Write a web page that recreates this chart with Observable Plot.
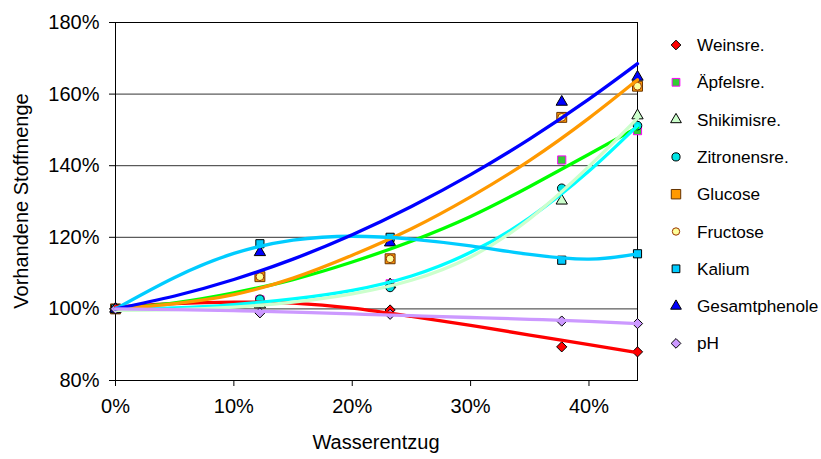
<!DOCTYPE html>
<html><head><meta charset="utf-8">
<script src="https://cdn.jsdelivr.net/npm/d3@7"></script>
<script src="https://cdn.jsdelivr.net/npm/@observablehq/plot@0.6"></script>
<style>
body{margin:0;background:#fff}
#chart{position:relative;width:821px;height:459px}
</style>
</head><body><div id="chart"></div>
<script>
// ---- data ----
const seriesNames = ["Weinsre.", "Äpfelsre.", "Shikimisre.", "Zitronensre.", "Glucose", "Fructose", "Kalium", "Gesamtphenole", "pH"];
const xTickValues = [0, 0.1, 0.2, 0.3, 0.4];
const yTickValues = [0.8, 1.0, 1.2, 1.4, 1.6, 1.8];
const gridValues = [1.0, 1.2, 1.4, 1.6, 1.8];

// measured points (Wasserentzug)
const waterLoss = [0, 0.122, 0.232, 0.377, 0.441];
const weinsre      = [1.00, 1.020, 0.997, 0.894, 0.880];
const aepfelsre    = [1.00, 1.025, 1.070, 1.416, 1.498];
const shikimisre   = [1.00, 1.012, 1.068, 1.302, 1.540];
const zitronensre  = [1.00, 1.027, 1.060, 1.337, 1.512];
const glucose      = [1.00, 1.090, 1.140, 1.535, 1.622];
const fructose     = [1.00, 1.090, 1.140, 1.535, 1.622];
const kalium       = [1.00, 1.182, 1.200, 1.136, 1.154];
const gesamtphenole= [1.00, 1.158, 1.185, 1.578, 1.648];
const ph           = [1.00, 0.989, 0.985, 0.966, 0.959];

// trend lines at these x positions
const trendX = [0, 0.05, 0.10, 0.15, 0.20, 0.25, 0.30, 0.35, 0.40, 0.441];
const weinsreTrend    = [1.006, 1.015, 1.019, 1.016, 1.002, 0.979, 0.954, 0.927, 0.900, 0.878];
const aepfelsreTrend  = [1.000, 1.017, 1.045, 1.082, 1.131, 1.189, 1.258, 1.342, 1.432, 1.507];
const shikimisreTrend = [0.996, 0.998, 1.005, 1.019, 1.042, 1.080, 1.145, 1.252, 1.398, 1.532];
const zitronensreTrend= [1.002, 1.003, 1.012, 1.028, 1.052, 1.092, 1.158, 1.255, 1.385, 1.512];
const glucoseTrend    = [1.000, 1.015, 1.040, 1.086, 1.150, 1.224, 1.313, 1.415, 1.533, 1.640];
const kaliumTrend     = [1.000, 1.088, 1.155, 1.192, 1.203, 1.195, 1.176, 1.152, 1.139, 1.154];
const phenoleTrend    = [1.000, 1.036, 1.082, 1.139, 1.207, 1.286, 1.375, 1.475, 1.586, 1.685];
const phTrend         = [1.000, 0.998, 0.995, 0.991, 0.986, 0.981, 0.976, 0.971, 0.965, 0.959];

// ---- styles ----
const styles = {
  "Weinsre.":      {symbol: "diamond2", fill: "#FF0000", stroke: "#000000", r: 4.6, line: "#FF0000"},
  "Äpfelsre.":     {symbol: "square",   fill: "#33CC33", stroke: "#FF00FF", r: 4.6, line: "#00FF00"},
  "Shikimisre.":   {symbol: "triangle", fill: "#CCFFCC", stroke: "#000000", r: 4.2, line: "#CCFFCC"},
  "Zitronensre.":  {symbol: "circle",   fill: "#00E5E5", stroke: "#000000", r: 4.3, line: "#00FFFF"},
  "Glucose":       {symbol: "square",   fill: "#FF9900", stroke: "#663300", r: 5.6, line: "#FF9900"},
  "Fructose":      {symbol: "circle",   fill: "#FFFF99", stroke: "#993300", r: 3.9, line: null},
  "Kalium":        {symbol: "square",   fill: "#00CCFF", stroke: "#000000", r: 4.6, line: "#00CCFF"},
  "Gesamtphenole": {symbol: "triangle", fill: "#0000FF", stroke: "#000000", r: 4.2, line: "#0000FF"},
  "pH":            {symbol: "diamond2", fill: "#CC99FF", stroke: "#000000", r: 4.6, line: "#CC99FF"}
};

const pointSeries = [weinsre, aepfelsre, shikimisre, zitronensre, glucose, fructose, kalium, gesamtphenole, ph];
const points = pointSeries.flatMap((vals, i) => vals.map((v, j) => ({name: seriesNames[i], x: waterLoss[j], y: v})));
const trendSeries = [
  ["Weinsre.", weinsreTrend], ["Äpfelsre.", aepfelsreTrend], ["Zitronensre.", zitronensreTrend],
  ["Shikimisre.", shikimisreTrend], ["Glucose", glucoseTrend], ["Kalium", kaliumTrend],
  ["Gesamtphenole", phenoleTrend], ["pH", phTrend]
];
const trends = trendSeries.flatMap(([name, vals]) => vals.map((v, j) => ({name, x: trendX[j], y: v})));

const font = "Liberation Sans, Arial, Helvetica, sans-serif";
const W = 821, H = 459, mL = 115, mR = 184, mT = 22, mB = 79;

const marks = [
  Plot.gridY(gridValues, {stroke: "#333", strokeOpacity: 1, strokeWidth: 1}),
  Plot.frame({stroke: "#000", strokeWidth: 1}),
  Plot.axisX(xTickValues, {tickSize: 6, tickPadding: 12, tickFormat: d3.format(".0%"), label: null, fontSize: 20}),
  Plot.axisY(yTickValues, {tickSize: 6, tickPadding: 10, tickFormat: d3.format(".0%"), label: null, fontSize: 20}),
];
for (const name of seriesNames) {
  const s = styles[name];
  marks.push(Plot.dot(points.filter(d => d.name === name), {x: "x", y: "y", symbol: s.symbol, fill: s.fill, stroke: s.stroke, strokeWidth: 1, r: s.r}));
}
for (const [name] of trendSeries) {
  const s = styles[name];
  marks.push(Plot.line(trends.filter(d => d.name === name), {x: "x", y: "y", stroke: s.line, strokeWidth: 3.3, curve: "natural"}));
}

const plot = Plot.plot({
  width: W, height: H,
  marginLeft: mL, marginRight: mR, marginTop: mT, marginBottom: mB,
  style: {fontFamily: font, fontSize: "20px", background: "#fff", color: "#000"},
  x: {domain: [0, 0.441]},
  y: {domain: [0.8, 1.8]},
  marks
});
document.getElementById("chart").appendChild(plot);

// axis titles and legend
const svg = d3.select(plot);
svg.append("text").attr("x", (mL + (W - mR)) / 2).attr("y", 449).attr("text-anchor", "middle")
  .attr("font-family", font).attr("font-size", 20).text("Wasserentzug");
svg.append("text").attr("transform", `translate(28,${(mT + H - mB) / 2}) rotate(-90)`).attr("text-anchor", "middle")
  .attr("font-family", font).attr("font-size", 20).text("Vorhandene Stoffmenge");

const symbolMap = {diamond2: d3.symbolDiamond2, square: d3.symbolSquare, triangle: d3.symbolTriangle, circle: d3.symbolCircle};
const legend = svg.append("g").attr("text-anchor", "start");
seriesNames.forEach((name, i) => {
  const s = styles[name];
  const y = 45 + i * 37.3;
  legend.append("path")
    .attr("d", d3.symbol(symbolMap[s.symbol], Math.PI * s.r * s.r * 0.9)())
    .attr("transform", `translate(676,${y})`)
    .attr("fill", s.fill).attr("stroke", s.stroke).attr("stroke-width", 1);
  legend.append("text").attr("x", 697).attr("y", y).attr("dy", "0.35em").attr("text-anchor", "start")
    .attr("font-family", font).attr("font-size", 17.2).text(name);
});
</script>
</body></html>
